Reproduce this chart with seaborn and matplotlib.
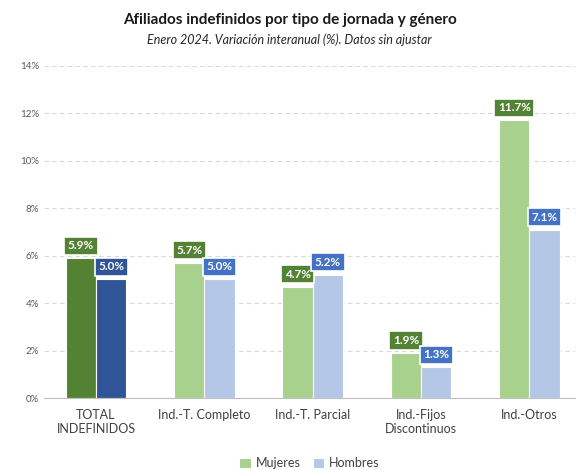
import pandas as pd
import seaborn as sns
import matplotlib.pyplot as plt

categorias = ["TOTAL\nINDEFINIDOS", "Ind.-T. Completo", "Ind.-T. Parcial",
              "Ind.-Fijos\nDiscontinuos", "Ind.-Otros"]
mujeres = [5.9, 5.7, 4.7, 1.9, 11.7]
hombres = [5.0, 5.0, 5.2, 1.3, 7.1]
yticks = [0, 2, 4, 6, 8, 10, 12, 14]

df = pd.DataFrame({
    "categoria": categorias * 2,
    "valor": mujeres + hombres,
    "genero": ["Mujeres"] * len(categorias) + ["Hombres"] * len(categorias),
})

sns.set_style("white")
plt.rcParams["font.family"] = ["Lato", "DejaVu Sans"]

fig = plt.figure(figsize=(5.79, 4.70), dpi=100)
ax = fig.add_axes([0.076, 0.153, 0.917, 0.707])

pal = {"Mujeres": "#A9D18E", "Hombres": "#B4C7E7"}
sns.barplot(data=df, x="categoria", y="valor", hue="genero", palette=pal,
            width=0.56, saturation=1, ax=ax, legend=True,
            edgecolor="white", linewidth=0.8)

# colores oscuros para el total
cont_m, cont_h = ax.containers[0], ax.containers[1]
cont_m[0].set_facecolor("#548235")
cont_h[0].set_facecolor("#2F5597")

for i, (bm, bh) in enumerate(zip(cont_m, cont_h)):
    for bar, val, col in [(bm, mujeres[i], "#548235"),
                          (bh, hombres[i], "#2F5597" if i == 0 else "#4472C4")]:
        ax.annotate(f"{val:.1f}%", (bar.get_x() + bar.get_width() / 2, val),
                    xytext=(0, 9), textcoords="offset points",
                    ha="center", va="center", color="white", fontsize=8.5,
                    fontweight="bold",
                    bbox=dict(boxstyle="square,pad=0.3", fc=col, ec="white", lw=1.2))

ax.set_ylim(0, 14)
ax.set_xlim(-0.48, 4.42)
ax.set_yticks(yticks)
ax.set_yticklabels([f"{t}%" for t in yticks], fontsize=7, color="#595959")
ax.tick_params(axis="x", labelsize=9, colors="#404040", length=0, pad=8)
ax.tick_params(axis="y", length=0)
ax.set_xlabel("")
ax.set_ylabel("")
ax.grid(True, axis="y", linestyle=(0, (4, 3)), color="#D9D9D9", linewidth=0.8)
ax.set_axisbelow(True)
for s in ["left", "right", "top"]:
    ax.spines[s].set_visible(False)
ax.spines["bottom"].set_color("#BFBFBF")

h, l = ax.get_legend_handles_labels()
ax.legend(h, l, loc="center", bbox_to_anchor=(0.5, -0.196), ncol=2,
          frameon=False, fontsize=9, handlelength=0.9, handleheight=0.9,
          columnspacing=1.0, handletextpad=0.4, borderpad=0)
for t in ax.get_legend().get_texts():
    t.set_color("#404040")

fig.text(0.5, 0.958, "Afiliados indefinidos por tipo de jornada y género",
         ha="center", va="center", fontsize=11, fontweight="bold", color="#1a1a1a")
fig.text(0.5, 0.915, "Enero 2024. Variación interanual (%). Datos sin ajustar",
         ha="center", va="center", fontsize=9, style="italic", color="#262626")

fig.savefig("out.png", dpi=100)
